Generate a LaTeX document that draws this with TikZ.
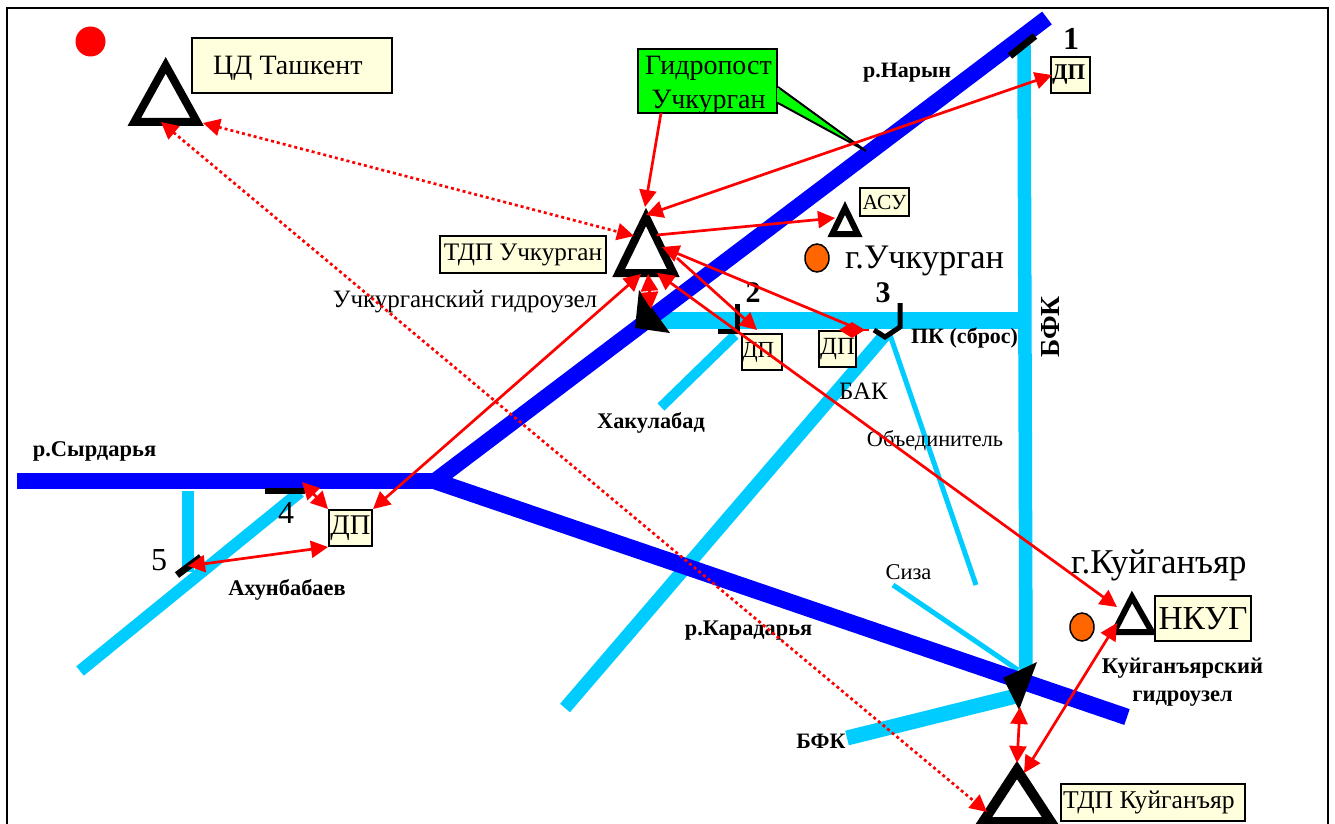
\documentclass[tikz,border=0pt]{standalone}
\usepackage{fontspec}
\setmainfont{Liberation Serif}
\usetikzlibrary{arrows.meta}
\newcommand\fz[1]{\fontsize{#1}{#1}\selectfont}
\definecolor{riverblue}{RGB}{0,0,255}
\definecolor{canalblue}{RGB}{0,204,255}
\definecolor{cream}{RGB}{255,255,221}
\definecolor{orangedot}{RGB}{255,102,0}
\tikzset{
  river/.style={draw=riverblue,line cap=butt},
  canal/.style={draw=canalblue,line cap=butt},
  gate/.style={draw=black,line join=miter},
  tri/.style={draw=black,fill=white,line join=miter,miter limit=10},
  solidtri/.style={draw=none,fill=black},
  box/.style={draw=black,fill=cream,line width=2pt,inner sep=0pt,anchor=north west,text=black},
  lbl/.style={inner sep=0pt,text=black},
  redhead/.tip={Triangle[length=17pt,width=17pt]},
  smallhead/.tip={Triangle[length=13pt,width=15pt]},
  link/.style={draw=red,line width=2.7pt,-redhead},
  blink/.style={draw=red,line width=2.7pt,redhead-},
  dlink/.style={draw=red,line width=2.7pt,redhead-redhead},
  dotlink/.style={draw=red,line width=2.7pt,dash pattern=on 3pt off 3pt,redhead-redhead},
}
\begin{document}
\begin{tikzpicture}[x=1pt,y=-1pt]
\useasboundingbox (0,0) rectangle (1335,824);
\clip (0,0) rectangle (1335,824);
\fill[white] (0,0) rectangle (1335,824);
% frame
\coordinate (fa) at (6.8,824); \coordinate (fb) at (6.8,7.8); \coordinate (fc) at (1328,7.8); \coordinate (fd) at (1328,824);
\draw[line width=2.2pt] (fa) -- (fb) -- (fc) -- (fd);
% canals
\draw[canal,line width=13.5pt] (1024,45) -- (1026,672);
\draw[canal,line width=17pt] (655,320) -- (1024,320);
\draw[canal,line width=10pt] (735,335) -- (661,407);
\draw[canal,line width=13pt] (885,335) -- (565,708);
\draw[canal,line width=5pt] (890,335) -- (976,585);
\draw[canal,line width=5pt] (893,585) -- (1018,670);
\draw[canal,line width=15pt] (847,738) -- (1020,695);
\draw[canal,line width=12pt] (300,492) -- (80,671);
\draw[canal,line width=12pt] (188,491) -- (188,572);
% rivers
\draw[river,line width=16.7pt] (17,481) -- (435,481);
\draw[river,line width=16pt] (435,481) -- (1047,18);
\draw[river,line width=16.7pt] (435,481) -- (1127,717);
% gates
\draw[gate,line width=7pt] (1010,56) -- (1035,36);
\draw[gate,line width=5pt] (737,304) -- (737,331) -- (718,331);
\draw[gate,line width=5pt] (900,303) -- (900,327) -- (885,337) -- (874,330);
\draw[gate,line width=6pt] (265,490.5) -- (305,490.5);
\draw[gate,line width=7pt] (177,575) -- (201,557);
% solid triangles
\fill[solidtri] (639,290) -- (635,328) -- (670,333) -- cycle;
\fill[solidtri] (1003,678) -- (1037,662) -- (1019,710) -- cycle;
% dots
\fill[red] (90.5,41.5) circle (15);
\draw[fill=orangedot,line width=1.5pt] (817,258) ellipse (12 and 14);
\draw[fill=orangedot,line width=1.5pt] (1082,627) ellipse (12 and 14);
% triangles
\draw[tri,line width=8pt] (165.7,65.3) -- (134.3,122) -- (197.1,122) -- cycle;
\draw[tri,line width=8pt] (646,217) -- (618.7,273) -- (673.3,273) -- cycle;
\draw[tri,line width=6pt] (845,208) -- (832.3,234) -- (857.7,234) -- cycle;
\draw[tri,line width=6pt] (1132,597) -- (1114,632) -- (1152,632) -- cycle;
\draw[tri,line width=10pt] (1017,770) -- (983,822) -- (1051,822) -- cycle;
% green callout
\node[draw=black,fill=green,line width=2pt,minimum width=139pt,minimum height=64pt,inner sep=0pt,anchor=north west,align=center,text=black] (gp) at (637,48) {};
\fill[green,draw=black,line width=2pt,line join=bevel] (778,87) -- (866,151) -- (778,103);
\draw[green,line width=2.5pt] (778,88) -- (778,102);
\node[lbl,font=\fz{28},align=center] (gpt) at (708.5,85.5) {Гидропост\\[6pt]Учкурган};
% boxes
\node[box,minimum width=200.5pt,minimum height=55.3pt] (cd) at (190.5,36.7) {};
\node[lbl,font=\fz{28},anchor=base west] (cdt) at (213,75) {ЦД Ташкент};
\node[box,minimum width=39pt,minimum height=36pt,font=\fz{22.5}\bfseries] (dp1) at (1050,56) {\raisebox{3pt}{ДП\hspace{4pt}}};
\node[box,minimum width=49pt,minimum height=28pt,font=\fz{21.5}] (asu) at (859,187) {АСУ};
\node[box,minimum width=166pt,minimum height=37pt,font=\fz{25.2}] (tu) at (439,235) {ТДП Учкурган};
\node[box,minimum width=39pt,minimum height=36pt,font=\fz{23}] (dp2) at (741,333) {\raisebox{2pt}{ДП\hspace{8pt}}};
\node[box,minimum width=37pt,minimum height=36pt,font=\fz{24.7}] (dp3) at (818,330) {\raisebox{3pt}{ДП}};
\node[box,minimum width=43pt,minimum height=36pt,font=\fz{28.5}] (dp4) at (328,509) {ДП};
\node[box,minimum width=96pt,minimum height=45pt,font=\fz{33.5}] (nk) at (1154,595) {НКУГ};
\node[box,minimum width=184pt,minimum height=37pt] (tk) at (1060,783) {};
\node[lbl,font=\fz{25.6},anchor=west] (tkt) at (1063,802) {ТДП Куйганъяр};
% labels
\node[lbl,font=\fz{22}\bfseries] (l1) at (907,72.5) {р.Нарын};
\node[lbl,font=\fz{32}\bfseries] (n1) at (1071,39) {1};
\node[lbl,font=\fz{30}\bfseries] (n2) at (753,293) {2};
\node[lbl,font=\fz{30}\bfseries] (n3) at (883,293) {3};
\node[lbl,font=\fz{32}] (n4) at (286,513) {4};
\node[lbl,font=\fz{32}] (n5) at (159,560) {5};
\node[lbl,font=\fz{34.4},anchor=west] (l2) at (845,261) {г.Учкурган};
\node[lbl,font=\fz{25}] (l3) at (465,302) {Учкурганский гидроузел};
\node[lbl,font=\fz{21.9}\bfseries] (l4) at (964.5,338) {ПК (сброс)};
\node[lbl,font=\fz{27.5}\bfseries,rotate=90] (l5) at (1050,327) {БФК};
\node[lbl,font=\fz{25}] (l6) at (863.5,391) {БАК};
\node[lbl,font=\fz{22.3}] (l7) at (935,441) {Объединитель};
\node[lbl,font=\fz{22.3}\bfseries] (l8) at (651,423) {Хакулабад};
\node[lbl,font=\fz{22.5}\bfseries] (l9) at (94.5,451) {р.Сырдарья};
\node[lbl,font=\fz{22.4}\bfseries] (l10) at (287,590) {Ахунбабаев};
\node[lbl,font=\fz{22.5}] (l11) at (908.5,572) {Сиза};
\node[lbl,font=\fz{22.3}\bfseries] (l12) at (748.5,631) {р.Карадарья};
\node[lbl,font=\fz{34.8},anchor=west] (l13) at (1071,565) {г.Куйганъяр};
\node[lbl,font=\fz{22.5}\bfseries,align=center] (l14) at (1182.5,682) {Куйганъярский\\[5.5pt]гидроузел};
\node[lbl,font=\fz{22}\bfseries] (l15) at (821,741) {БФК};
% connector ends
\coordinate (gpA) at (661,113); \coordinate (uTop) at (645,207);
\coordinate (tashR) at (203,123); \coordinate (uLeft) at (634,236);
\coordinate (tashB) at (161,122); \coordinate (kLeft) at (987,812);
\coordinate (uTopR) at (646,215); \coordinate (dp1L) at (1052,75);
\coordinate (uRight) at (657,235); \coordinate (asuL) at (835,218);
\coordinate (uBot) at (648,274); \coordinate (gateU) at (651,309);
\coordinate (dp4T) at (373,509); \coordinate (uBotL) at (641,274);
\coordinate (uR2) at (677,258); \coordinate (dp2T) at (757,330);
\coordinate (uR3) at (662,247); \coordinate (dp3T) at (851,326);
\coordinate (uBotR) at (657,273); \coordinate (nkL) at (1117,607);
\coordinate (dmL) at (839,330); \coordinate (dmR) at (865,330); \coordinate (dmS) at (858,330); \coordinate (dmT) at (869,330);
\coordinate (g4) at (302,482); \coordinate (dp4L) at (328,509);
\coordinate (g5) at (188,566); \coordinate (dp4B) at (328,547);
\coordinate (gateK) at (1020,707); \coordinate (kTop) at (1017,763);
\coordinate (nkB) at (1117,623); \coordinate (kTopR) at (1024,773);
% connectors
\draw[link] (gpA) -- (uTop);
\draw[dotlink] (tashR) -- (uLeft);
\draw[dotlink] (tashB) -- (kLeft);
\draw[dlink] (uTopR) -- (dp1L);
\draw[link] (uRight) -- (asuL);
\draw[dlink] (uBot) -- (gateU);
\draw[dlink] (dp4T) -- (uBotL);
\draw[link] (uR2) -- (dp2T);
\draw[blink] (uR3) -- (dp3T);
\draw[dlink] (uBotR) -- (nkL);
\draw[draw=red,line width=2.7pt,smallhead-smallhead] (dmL) -- (dmR);
\draw[draw=red,line width=2.7pt] (dmS) -- (dmT);
\draw[dlink] (g4) -- (dp4L);
\draw[dlink] (g5) -- (dp4B);
\draw[dlink] (gateK) -- (kTop);
\draw[dlink] (nkB) -- (kTopR);
\end{tikzpicture}
\end{document}
